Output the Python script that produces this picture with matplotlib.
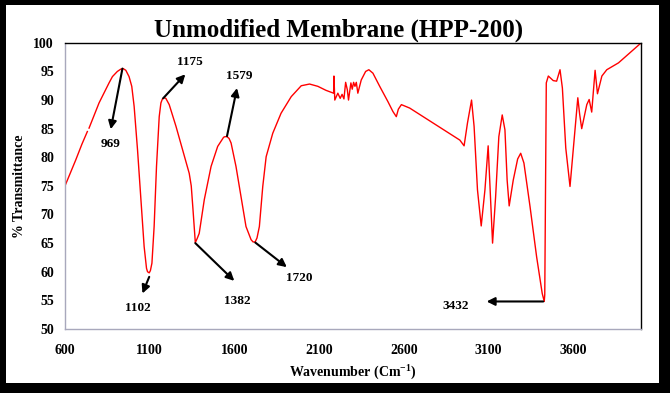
import numpy as np
import matplotlib
matplotlib.use("Agg")
import matplotlib.pyplot as plt
from matplotlib.patches import Rectangle

plt.rcParams['font.family'] = ['Liberation Serif', 'DejaVu Serif']
plt.rcParams['font.weight'] = 'bold'
plt.rcParams['mathtext.fontset'] = 'custom'
plt.rcParams['mathtext.rm'] = 'Liberation Serif:bold'
plt.rcParams['mathtext.default'] = 'rm'

# FTIR spectrum (wavenumber, % transmittance)
wavenumber = [600, 663, 700, 732, np.nan, 742, 801, 860, 880, 909, 929, 943, 959, 978,
              994, 1008, 1028, 1048, 1067, 1081, 1087, 1097, 1104, 1113, 1126, 1140,
              1156, 1166, 1175, 1185, 1195, 1215, 1255, 1294, 1333, 1345, 1355, 1363,
              1369, 1380, 1392, 1422, 1462, 1501, 1536, 1544, 1556, 1568, 1580, 1609,
              1639, 1668, 1698, 1710, 1722, 1733, 1747, 1767, 1787, 1826, 1875, 1935,
              1994, 2043, 2092, 2140, 2185, 2187, 2192, 2210, 2224, 2235, 2246, 2256,
              2266, 2273, 2287, 2295, 2303, 2311, 2319, 2328, 2348, 2374, 2393, 2417,
              2457, 2506, 2535, 2555, 2567, 2585, 2634, 2930, 2955, 2975, 2999, 3014,
              3034, 3056, 3078, 3097, 3109, 3123, 3141, 3160, 3180, 3196, 3209, 3221,
              3245, 3271, 3289, 3308, 3344, 3383, 3416, 3428, 3431, 3440, 3452, 3481,
              3501, 3521, 3535, 3555, 3580, 3600, 3626, 3637, 3649, 3679, 3693, 3708,
              3728, 3742, 3768, 3797, 3866, 4000]
transmittance = [75.0, 79.5, 82.3, 84.5, np.nan, 85.1, 89.5, 93.0, 94.1, 95.0, 95.4, 95.5, 95.2, 94.1,
                 92.4, 88.9, 81.3, 72.6, 64.4, 60.6, 60.0, 59.8, 60.2, 61.5, 67.9, 78.4,
                 87.1, 89.5, 90.2, 90.4, 90.3, 89.2, 85.4, 81.3, 77.2, 75.0, 71.0, 67.5,
                 65.1, 65.8, 66.7, 72.6, 78.4, 81.9, 83.5, 83.6, 83.6, 83.3, 82.5, 78.4,
                 73.1, 67.9, 65.6, 65.2, 65.2, 65.9, 67.9, 74.9, 80.1, 84.2, 87.7, 90.6,
                 92.5, 92.8, 92.4, 91.7, 91.2, 94.2, 90.0, 91.2, 90.3, 91.0, 90.2, 93.1,
                 91.8, 90.0, 93.0, 91.9, 93.1, 92.4, 93.1, 91.2, 93.5, 95.0, 95.3, 94.7,
                 92.4, 89.7, 88.0, 87.1, 88.4, 89.2, 88.6, 83.0, 82.0, 86.0, 90.0, 85.4,
                 74.3, 68.0, 74.3, 82.0, 74.3, 65.0, 73.1, 83.6, 87.4, 84.8, 76.0, 71.5,
                 76.0, 79.7, 80.7, 79.0, 71.4, 62.6, 56.2, 54.8, 56.0, 93.0, 94.2, 93.4,
                 93.3, 95.3, 92.1, 81.6, 74.9, 81.6, 90.4, 87.5, 85.0, 89.2, 90.1, 87.9,
                 95.2, 91.1, 94.2, 95.3, 96.5, 100.0]

# peak labels: text, point on curve, arrow head, label position
peak_labels = ["969", "1102", "1175", "1382", "1579", "1720", "3432"]
peak_points = [(939, 95.5), (1097, 59.1), (1179, 90.3), (1369, 65.0),
               (1556, 83.7), (1723, 65.1), (3422, 54.8)]
arrow_heads = [(870, 84.9), (1057, 56.2), (1310, 94.5), (1599, 58.4),
               (1615, 92.1), (1909, 60.8), (3088, 54.8)]
label_pos = [(866, 82.3), (1033, 53.7), (1339, 96.7), (1619, 54.8),
             (1629, 94.2), (1984, 58.9), (2906, 54.0)]

fig = plt.figure(figsize=(6.7, 3.93), dpi=100)
ax = fig.add_axes([0.097, 0.163, 0.860, 0.728])

ax.plot(wavenumber, transmittance, color='#ff0000', lw=1.0, solid_joinstyle='round')

for lab, p, h, t in zip(peak_labels, peak_points, arrow_heads, label_pos):
    ax.annotate('', xy=h, xytext=p,
                arrowprops=dict(arrowstyle='-|>', color='black', lw=1.5,
                                mutation_scale=12, shrinkA=0, shrinkB=0))
    ax.text(t[0], t[1], lab, ha='center', va='center', fontsize=9.5,
            fontweight='bold')

ax.set_xlim(600, 4000)
ax.set_ylim(50, 100)
ax.set_xticks(np.arange(600, 4000, 500))
ax.set_yticks(np.arange(50, 101, 5))
ax.tick_params(axis='x', length=0, labelsize=10, pad=11)
ax.tick_params(axis='y', length=0, labelsize=10, pad=8)
for lbl in ax.get_xticklabels() + ax.get_yticklabels():
    lbl.set_fontweight('bold')

ax.spines['top'].set_color('black')
ax.spines['right'].set_color('black')
ax.spines['left'].set_color('#a8a8bc')
ax.spines['bottom'].set_color('#a8a8bc')
for s in ax.spines.values():
    s.set_linewidth(1.0)

ax.set_xlabel('Wavenumber (Cm$^{-1}$)', fontsize=10, fontweight='bold', labelpad=5)
ax.set_ylabel('% Transmittance', fontsize=10, fontweight='bold', labelpad=5)
fig.text(0.505, 0.922, 'Unmodified Membrane (HPP-200)', ha='center', va='center',
         fontsize=18, fontweight='bold')

# thick frame around the picture
W, H = 670, 393
for (x0, y0, w, h) in [(0, 0, 6, H), (0, H - 5, W, 5), (W - 11, 0, 11, H), (0, 0, W, 10)]:
    fig.patches.append(Rectangle((x0 / W, y0 / H), w / W, h / H, transform=fig.transFigure,
                                 facecolor='black', edgecolor='none'))

fig.savefig('out.png', dpi=100)
